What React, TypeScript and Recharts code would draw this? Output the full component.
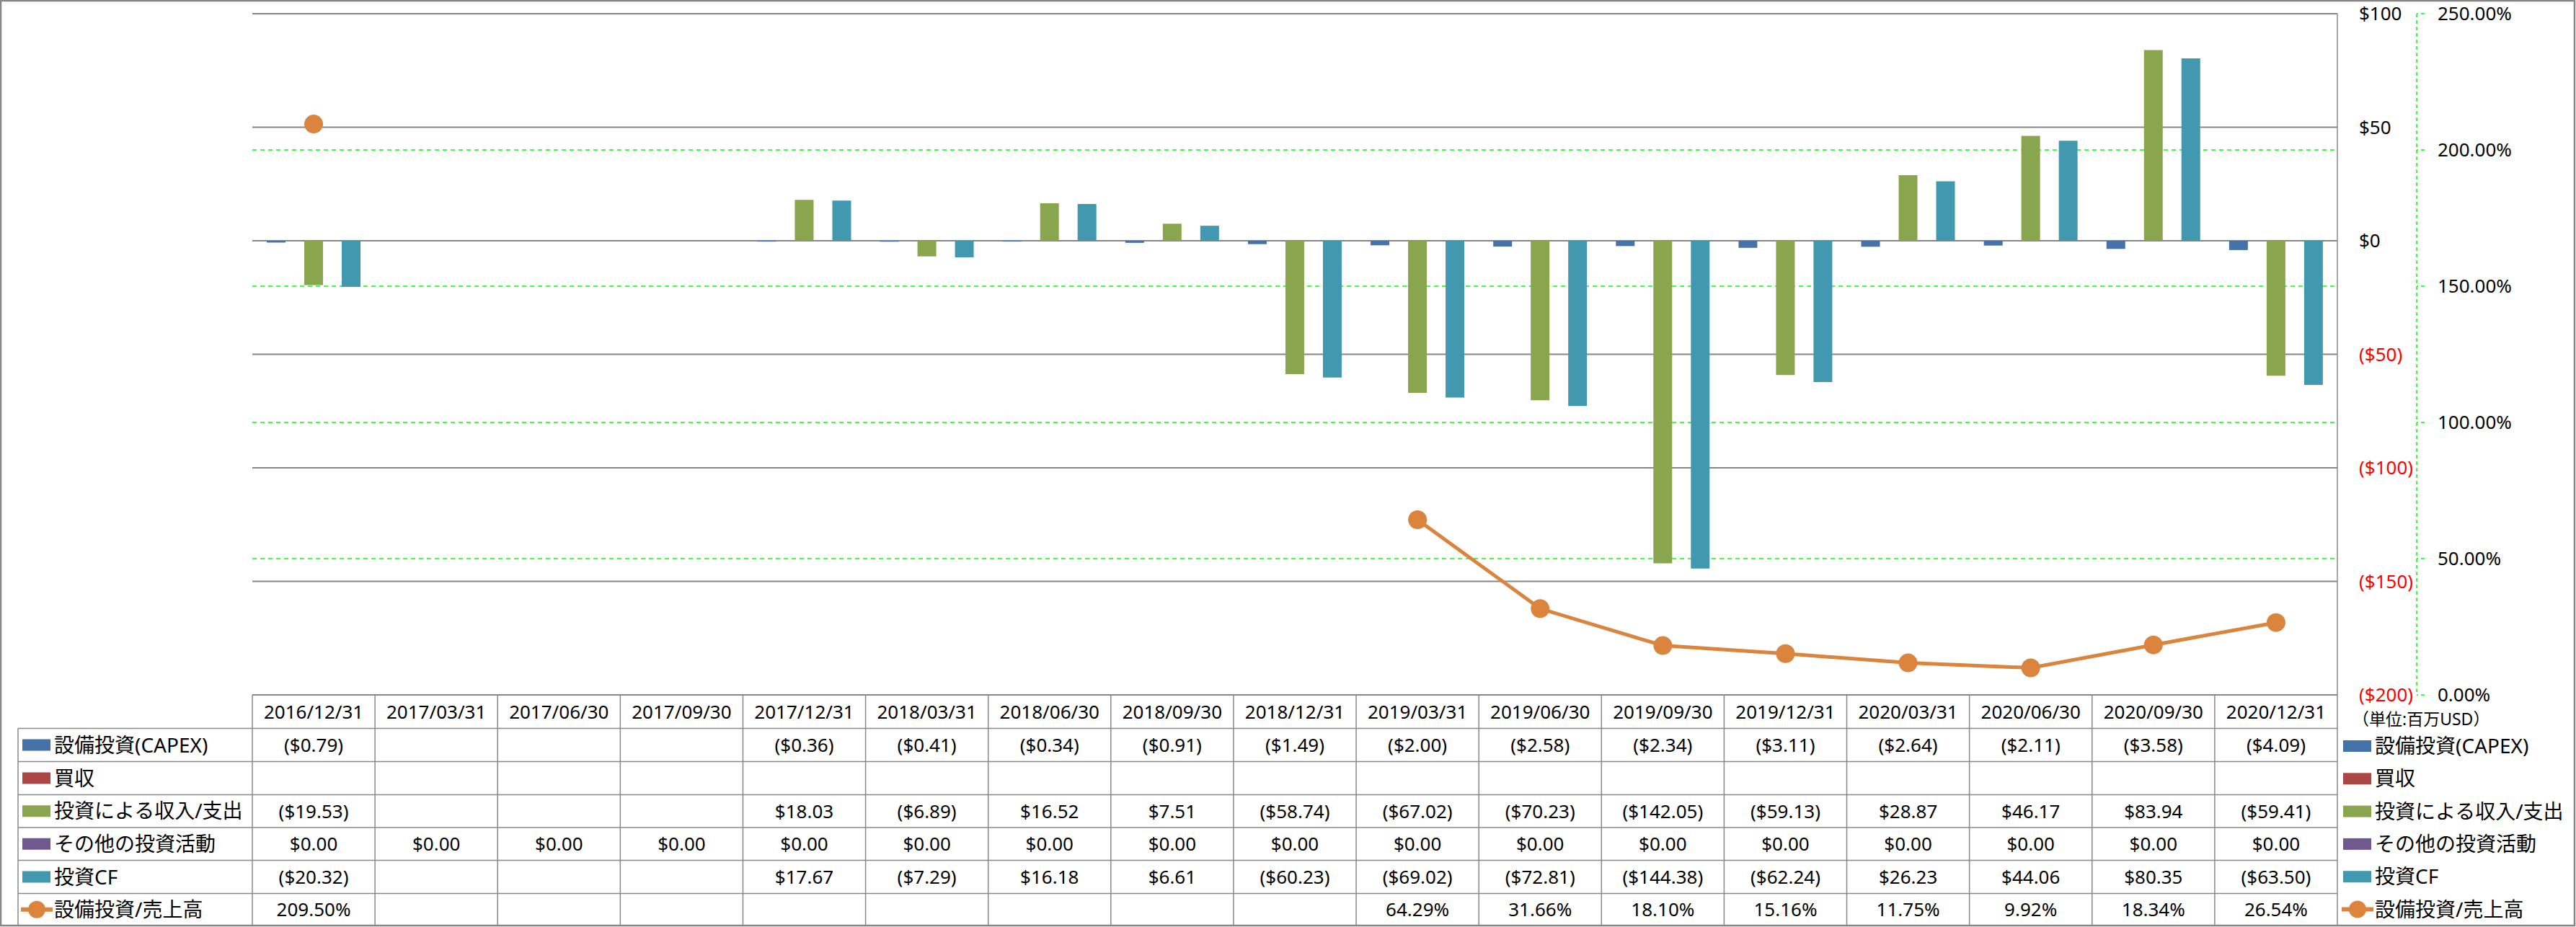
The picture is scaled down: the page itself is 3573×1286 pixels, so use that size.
import React from 'react';
import { ComposedChart, Bar, Line, XAxis, YAxis, CartesianGrid } from 'recharts';

const categories = ['2016/12/31','2017/03/31','2017/06/30','2017/09/30','2017/12/31','2018/03/31','2018/06/30','2018/09/30','2018/12/31','2019/03/31','2019/06/30','2019/09/30','2019/12/31','2020/03/31','2020/06/30','2020/09/30','2020/12/31'];
const capex: (number|null)[] = [-0.79,null,null,null,-0.36,-0.41,-0.34,-0.91,-1.49,-2.00,-2.58,-2.34,-3.11,-2.64,-2.11,-3.58,-4.09];
const acquisition: (number|null)[] = [null,null,null,null,null,null,null,null,null,null,null,null,null,null,null,null,null];
const investIO: (number|null)[] = [-19.53,null,null,null,18.03,-6.89,16.52,7.51,-58.74,-67.02,-70.23,-142.05,-59.13,28.87,46.17,83.94,-59.41];
const otherInvest: (number|null)[] = [0,0,0,0,0,0,0,0,0,0,0,0,0,0,0,0,0];
const investCF: (number|null)[] = [-20.32,null,null,null,17.67,-7.29,16.18,6.61,-60.23,-69.02,-72.81,-144.38,-62.24,26.23,44.06,80.35,-63.50];
const capexRatio: (number|null)[] = [209.50,null,null,null,null,null,null,null,null,64.29,31.66,18.10,15.16,11.75,9.92,18.34,26.54];
const usdTicks = [-200,-150,-100,-50,0,50,100];
const pctTicks = [0,50,100,150,200,250];

const seriesDefs = [
  { key: 'capex', name: '設備投資(CAPEX)', color: '#4572A7', values: capex, kind: 'bar' },
  { key: 'acq', name: '買収', color: '#AA4643', values: acquisition, kind: 'bar' },
  { key: 'io', name: '投資による収入/支出', color: '#89A54E', values: investIO, kind: 'bar' },
  { key: 'other', name: 'その他の投資活動', color: '#71588F', values: otherInvest, kind: 'bar' },
  { key: 'cf', name: '投資CF', color: '#4198AF', values: investCF, kind: 'bar' },
  { key: 'ratio', name: '設備投資/売上高', color: '#DB843D', values: capexRatio, kind: 'line' },
];

const data = categories.map((c, i) => {
  const row: any = { date: c };
  seriesDefs.forEach(s => { row[s.key] = s.values[i]; });
  return row;
});

const W = 3573, H = 1286;
const PL = 350, PR = 3242, PT = 19, PB = 964;
const COLW = (PR - PL) / categories.length;
const ROWS = [964, 1010.5, 1056.5, 1102.5, 1148, 1193.5, 1239.5, 1284];
const FONT = "'Noto Sans', 'Noto Sans CJK JP', sans-serif";
const GRAY = '#888888';
const USD = 'a_usd';
const PCT = 'b_pct';

const fmtMoney = (v: number | null) => v == null ? '' : v < 0 ? `($${(-v).toFixed(2)})` : `$${v.toFixed(2)}`;
const fmtPct = (v: number | null) => v == null ? '' : `${v.toFixed(2)}%`;

const UsdTick = (props: any) => {
  const { x, y, payload } = props;
  const v = payload.value;
  return (
    <text x={x} y={y} dy="0.36em" textAnchor="start" fontSize={26} fontFamily={FONT} fill={v < 0 ? '#FF0000' : '#000000'}>
      {v < 0 ? `($${-v})` : `$${v}`}
    </text>
  );
};
const PctTick = (props: any) => {
  const { x, y, payload } = props;
  return (
    <text x={x} y={y} dy="0.36em" textAnchor="start" fontSize={26} fontFamily={FONT} fill="#000000">
      {`${payload.value.toFixed(2)}%`}
    </text>
  );
};

const LegendIcon = ({ s, x, cy }: any) => {
  if (s.kind === 'line') {
    return (
      <g>
        <line x1={x - 2} x2={x + 42} y1={cy} y2={cy} stroke={s.color} strokeWidth={6} />
        <circle cx={x + 20} cy={cy} r={12} fill={s.color} />
      </g>
    );
  }
  return <rect x={x} y={cy - 8} width={39} height={16} fill={s.color} />;
};

const Overlay = () => {
  const lines: any[] = [];
  ROWS.forEach((y, i) => {
    if (i === 0) return;
    lines.push(<line key={'h' + i} x1={25} x2={PR} y1={y} y2={y} stroke={GRAY} strokeWidth={1.5} />);
  });
  lines.push(<line key="vleft" x1={25} x2={25} y1={ROWS[1]} y2={ROWS[7]} stroke={GRAY} strokeWidth={1.5} />);
  for (let i = 0; i <= categories.length; i++) {
    const x = PL + i * COLW;
    lines.push(<line key={'v' + i} x1={x} x2={x} y1={i === categories.length ? PT : PB} y2={ROWS[7]} stroke={GRAY} strokeWidth={1.5} />);
  }
  const texts: any[] = [];
  categories.forEach((c, i) => {
    const cx = PL + (i + 0.5) * COLW;
    texts.push(<text key={'c' + i} x={cx} y={(ROWS[0] + ROWS[1]) / 2} dy="0.36em" textAnchor="middle" fontSize={26} fontFamily={FONT}>{c}</text>);
    seriesDefs.forEach((s, r) => {
      const v = s.values[i];
      const t = s.kind === 'line' ? fmtPct(v) : fmtMoney(v);
      if (t) texts.push(<text key={'t' + i + '_' + r} x={cx} y={(ROWS[r + 1] + ROWS[r + 2]) / 2} dy="0.36em" textAnchor="middle" fontSize={26} fontFamily={FONT}>{t}</text>);
    });
  });
  const legends: any[] = [];
  seriesDefs.forEach((s, r) => {
    const cy = (ROWS[r + 1] + ROWS[r + 2]) / 2;
    legends.push(<g key={'ll' + r}><LegendIcon s={s} x={31} cy={cy} /><text x={75} y={cy} dy="0.36em" fontSize={28} fontFamily={FONT}>{s.name}</text></g>);
    const cy2 = 1035 + r * 45.3;
    legends.push(<g key={'lr' + r}><LegendIcon s={s} x={3250} cy={cy2} /><text x={3294} y={cy2} dy="0.36em" fontSize={28} fontFamily={FONT}>{s.name}</text></g>);
  });
  return (
    <svg width={W} height={H} style={{ position: 'absolute', left: 0, top: 0, pointerEvents: 'none' }}>
      {lines}
      {texts}
      {legends}
      <text x={3263} y={998} dy="0.36em" fontSize={23} fontFamily={FONT}>（単位:百万USD）</text>
      <rect x={1} y={1} width={W - 3} height={H - 3} fill="none" stroke="#868686" strokeWidth={2.5} />
    </svg>
  );
};

export default function App() {
  return (
    <div style={{ position: 'absolute', left: 0, top: 0, width: W, height: H, background: '#ffffff' }}>
      <ComposedChart width={W} height={H} data={data} margin={{ top: PT, right: 0, bottom: H - PB, left: PL }} barCategoryGap={20} barGap={0}>
        <CartesianGrid yAxisId={PCT} xAxisId="x" vertical={false} stroke="#00FF00" strokeDasharray="6 5" strokeWidth={1.5} />
        <CartesianGrid yAxisId={USD} xAxisId="x" vertical={false} stroke="#868686" strokeWidth={2} />
        <XAxis xAxisId="x" dataKey="date" hide />
        <YAxis yAxisId={USD} orientation="right" width={110} domain={[-200, 100]} ticks={usdTicks} interval={0} axisLine={false} tickLine={false} tickSize={0} tickMargin={30} tick={<UsdTick />} allowDataOverflow />
        <YAxis yAxisId={PCT} orientation="right" width={221} domain={[0, 250]} ticks={pctTicks} interval={0} axisLine={{ stroke: '#00FF00', strokeDasharray: '5 4', strokeWidth: 1.5 }} tickLine={{ stroke: '#00FF00', strokeDasharray: '5 4', strokeWidth: 1.5 }} tickSize={11} tickMargin={18} tick={<PctTick />} allowDataOverflow />
        {seriesDefs.filter(s => s.kind === 'bar').map(s => (
          <Bar key={s.key} xAxisId="x" yAxisId={USD} dataKey={s.key} name={s.name} fill={s.color} isAnimationActive={false} />
        ))}
        <Line xAxisId="x" yAxisId={PCT} type="linear" dataKey="ratio" name="設備投資/売上高" stroke="#DB843D" strokeWidth={5} dot={{ r: 13, fill: '#DB843D', stroke: 'none' }} activeDot={false} connectNulls={false} isAnimationActive={false} />
      </ComposedChart>
      <Overlay />
    </div>
  );
}
